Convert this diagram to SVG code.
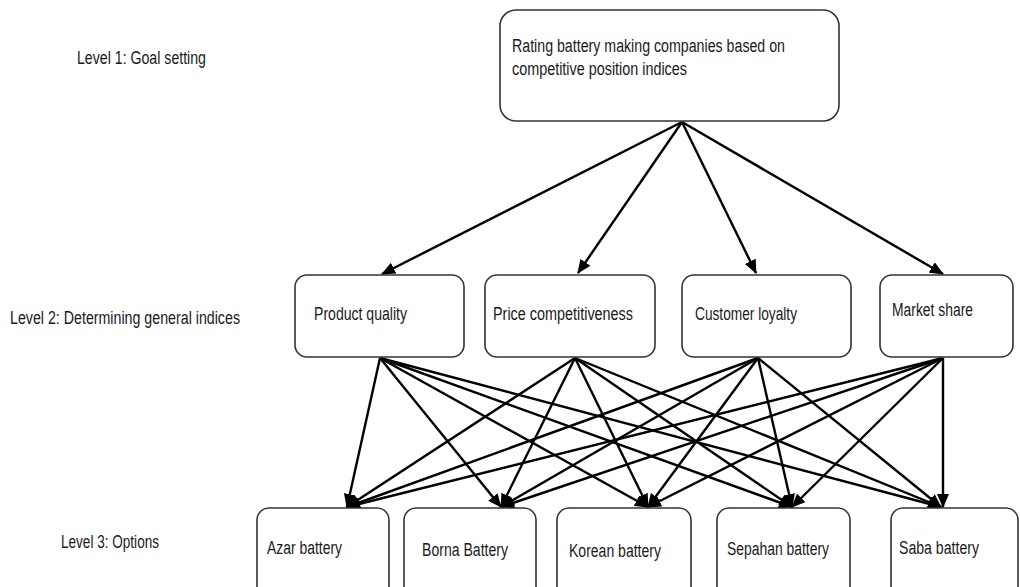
<svg xmlns="http://www.w3.org/2000/svg" width="1020" height="587" viewBox="0 0 1020 587">
<style>
.box{fill:#fff;stroke:#333;stroke-width:1.6}
.t{font-family:"Liberation Sans",Arial,sans-serif;font-size:18px;fill:#1a1a1a}
.c line{stroke:#000;stroke-width:2.4;marker-end:url(#ah)}
</style>
<defs>
<marker id="ah" markerUnits="userSpaceOnUse" markerWidth="14" markerHeight="12" refX="13" refY="6" orient="auto">
<path d="M0,0 L14,6 L0,12 z" fill="#000"/>
</marker>
</defs>
<rect width="1020" height="587" fill="#fff"/>
<g id="labels">
<text class="t" x="77" y="64" textLength="129" lengthAdjust="spacingAndGlyphs">Level 1: Goal setting</text>
<text class="t" x="10" y="324" textLength="230" lengthAdjust="spacingAndGlyphs">Level 2: Determining general indices</text>
<text class="t" x="61" y="548" textLength="98" lengthAdjust="spacingAndGlyphs">Level 3: Options</text>
</g>
<g class="c" id="connectors">
<line x1="682" y1="122" x2="382" y2="274"/>
<line x1="682" y1="122" x2="578" y2="273"/>
<line x1="682" y1="122" x2="756" y2="273"/>
<line x1="682" y1="122" x2="943" y2="274"/>
<line x1="380" y1="358" x2="347" y2="507"/>
<line x1="380" y1="358" x2="501" y2="507"/>
<line x1="380" y1="358" x2="648" y2="507"/>
<line x1="380" y1="358" x2="792" y2="507"/>
<line x1="380" y1="358" x2="941" y2="507"/>
<line x1="575" y1="358" x2="347" y2="507"/>
<line x1="575" y1="358" x2="501" y2="507"/>
<line x1="575" y1="358" x2="648" y2="507"/>
<line x1="575" y1="358" x2="792" y2="507"/>
<line x1="575" y1="358" x2="941" y2="507"/>
<line x1="758" y1="358" x2="347" y2="507"/>
<line x1="758" y1="358" x2="501" y2="507"/>
<line x1="758" y1="358" x2="648" y2="507"/>
<line x1="758" y1="358" x2="792" y2="507"/>
<line x1="758" y1="358" x2="941" y2="507"/>
<line x1="943" y1="358" x2="347" y2="507"/>
<line x1="943" y1="358" x2="501" y2="507"/>
<line x1="943" y1="358" x2="648" y2="507"/>
<line x1="943" y1="358" x2="792" y2="507"/>
<line x1="943" y1="358" x2="943" y2="507"/>
</g>
<g id="goal">
<rect class="box" x="500" y="10" width="339" height="111" rx="16"/>
<text class="t" x="512" y="52" textLength="273" lengthAdjust="spacingAndGlyphs">Rating battery making companies based on</text>
<text class="t" x="512" y="75" textLength="175" lengthAdjust="spacingAndGlyphs">competitive position indices</text>
</g>
<g id="product-quality">
<rect class="box" x="295" y="275" width="169" height="82" rx="12"/>
<text class="t" x="314" y="320" textLength="93" lengthAdjust="spacingAndGlyphs">Product quality</text>
</g>
<g id="price-competitiveness">
<rect class="box" x="485" y="275" width="170" height="82" rx="12"/>
<text class="t" x="493" y="320" textLength="140" lengthAdjust="spacingAndGlyphs">Price competitiveness</text>
</g>
<g id="customer-loyalty">
<rect class="box" x="682" y="275" width="169" height="82" rx="12"/>
<text class="t" x="695" y="320" textLength="102" lengthAdjust="spacingAndGlyphs">Customer loyalty</text>
</g>
<g id="market-share">
<rect class="box" x="880" y="275" width="133" height="82" rx="12"/>
<text class="t" x="892" y="316" textLength="81" lengthAdjust="spacingAndGlyphs">Market share</text>
</g>
<g id="azar">
<rect class="box" x="257" y="508" width="132" height="100" rx="12"/>
<text class="t" x="267" y="554" textLength="75" lengthAdjust="spacingAndGlyphs">Azar battery</text>
</g>
<g id="borna">
<rect class="box" x="404" y="508" width="132" height="100" rx="12"/>
<text class="t" x="422" y="556" textLength="86" lengthAdjust="spacingAndGlyphs">Borna Battery</text>
</g>
<g id="korean">
<rect class="box" x="557" y="508" width="134" height="100" rx="12"/>
<text class="t" x="569" y="557" textLength="92" lengthAdjust="spacingAndGlyphs">Korean battery</text>
</g>
<g id="sepahan">
<rect class="box" x="717" y="508" width="133" height="100" rx="12"/>
<text class="t" x="727" y="555" textLength="102" lengthAdjust="spacingAndGlyphs">Sepahan battery</text>
</g>
<g id="saba">
<rect class="box" x="891" y="508" width="127" height="100" rx="12"/>
<text class="t" x="899" y="554" textLength="80" lengthAdjust="spacingAndGlyphs">Saba battery</text>
</g>
</svg>
